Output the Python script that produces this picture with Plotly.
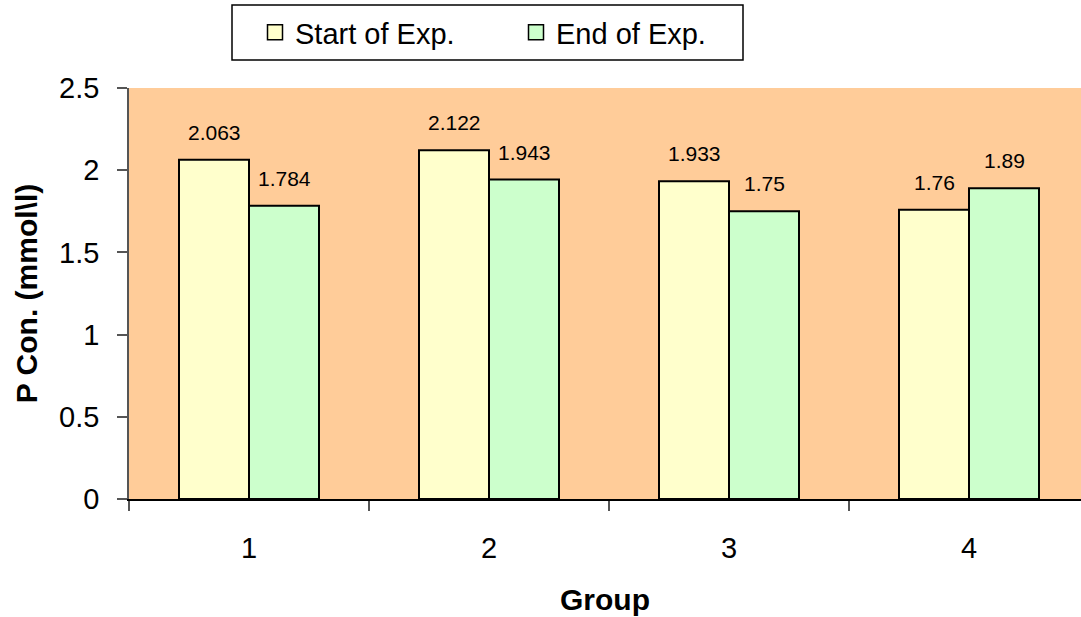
import plotly.graph_objects as go

groups = [1, 2, 3, 4]
group_labels = ["1", "2", "3", "4"]
start_vals = [2.063, 2.122, 1.933, 1.76]
end_vals = [1.784, 1.943, 1.75, 1.89]
series_names = ["Start of Exp.", "End of Exp."]
series_colors = ["#FFFFCC", "#CCFFCC"]
y_ticks = [0, 0.5, 1, 1.5, 2, 2.5]
y_tick_labels = ["0", "0.5", "1", "1.5", "2", "2.5"]

FONT = "Liberation Sans, Arial"
bar_w = 70 / 240
offset = bar_w / 2

fig = go.Figure()
for vals, name, color, off in [(start_vals, series_names[0], series_colors[0], -bar_w),
                               (end_vals, series_names[1], series_colors[1], 0)]:
    fig.add_trace(go.Bar(
        x=groups, y=vals, name=name, showlegend=False,
        width=bar_w, offset=off,
        marker=dict(color=color, line=dict(color="black", width=2)),
    ))
# legend entries with larger square symbols
for name, color in zip(series_names, series_colors):
    fig.add_trace(go.Scatter(
        x=[None], y=[None], mode="markers", name=name,
        marker=dict(symbol="square", size=15, color=color,
                    line=dict(color="black", width=1.5)),
    ))

annotations = []
for g, v in zip(groups, start_vals):
    annotations.append(dict(x=g - offset, y=v, text=str(v), showarrow=False,
                            yanchor="bottom", yshift=14,
                            font=dict(size=21, color="black", family=FONT)))
for g, v in zip(groups, end_vals):
    annotations.append(dict(x=g + offset, y=v, text=str(v), showarrow=False,
                            yanchor="bottom", yshift=14,
                            font=dict(size=21, color="black", family=FONT)))

# legend frame
fig.add_shape(type="rect", xref="paper", yref="paper",
              x0=(232 - 129) / 952, x1=(743 - 129) / 952,
              y0=(499 - 60) / 411, y1=(499 - 5) / 411,
              line=dict(color="black", width=1.5), fillcolor="white", layer="below")

fig.update_layout(
    width=1081, height=617,
    margin=dict(l=129, r=0, t=88, b=118, autoexpand=False),
    paper_bgcolor="white",
    plot_bgcolor="#FFCC99",
    font=dict(family=FONT, color="black"),
    barmode="overlay",
    showlegend=True,
    legend=dict(
        orientation="h", x=(255 - 129) / 952, y=(499 - 32.5) / 411,
        xanchor="left", yanchor="middle",
        bgcolor="rgba(0,0,0,0)", borderwidth=0,
        font=dict(size=29), itemwidth=30, traceorder="normal",
        entrywidth=216,
    ),
    annotations=annotations,
    xaxis=dict(
        range=[0.5, 0.5 + (1081 - 129) / 240],
        tickmode="array", tickvals=groups, ticktext=group_labels,
        ticks="", showgrid=False, zeroline=False,
        showline=True, linecolor="black", linewidth=2,
        tickfont=dict(size=29), ticklabelstandoff=22,
        minor=dict(tick0=0.5, dtick=1, ticks="outside", ticklen=10,
                   tickcolor="#555555", tickwidth=2, showgrid=False),
        title=dict(text="<b>Group</b>", font=dict(size=30), standoff=26),
    ),
    yaxis=dict(
        range=[0, 2.5],
        tickmode="array", tickvals=y_ticks, ticktext=y_tick_labels,
        ticks="outside", ticklen=10, tickcolor="#555555", tickwidth=2,
        ticklabelstandoff=12,
        showgrid=False, zeroline=False,
        showline=True, linecolor="#555555", linewidth=1.5,
        tickfont=dict(size=29),
        title=dict(text="<b>P Con. (mmol\\l)</b>", font=dict(size=30), standoff=13),
    ),
)

fig.write_html("out.html")
